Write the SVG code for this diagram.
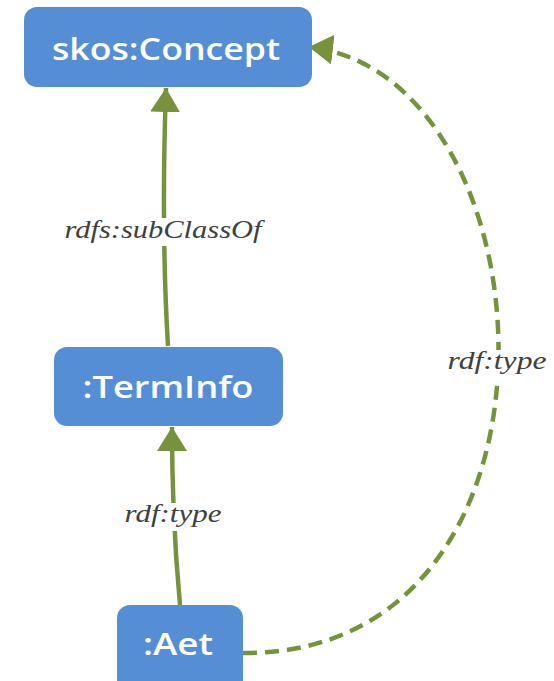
<svg xmlns="http://www.w3.org/2000/svg" width="554" height="681" viewBox="0 0 554 681">
<style>
.node rect{fill:#558ed5;}
.node text{fill:#fff;font-family:"Open Sans","Noto Sans",sans-serif;font-weight:600;font-size:31px;text-anchor:middle;}
.edge{fill:none;stroke:#76923c;stroke-width:4.5;}
.dash{stroke-dasharray:14 8;}
.lbl{font-family:"Liberation Serif","DejaVu Serif",serif;font-style:italic;font-size:26px;fill:#404040;text-anchor:middle;}
.bg{fill:#fff;}
</style>
<defs>
<marker id="ah" viewBox="0 0 24 30" refX="24" refY="15" markerWidth="24" markerHeight="30" markerUnits="userSpaceOnUse" orient="auto">
<path d="M0,0 L24,15 L0,30 z" fill="#76923c"/>
</marker>
</defs>
<rect width="554" height="681" fill="#fff"/>
<g id="connectors">
<path class="edge" d="M168,346 Q161,230 166,88" marker-end="url(#ah)"/>
<path class="edge" d="M180,605 Q172,520 172,427" marker-end="url(#ah)"/>
<path class="edge dash" d="M243,653 C590,655 555,75 309,47" marker-end="url(#ah)"/>
<rect class="bg" x="62" y="218" width="203" height="28"/>
<text class="lbl" x="163" y="238" textLength="197" lengthAdjust="spacingAndGlyphs">rdfs:subClassOf</text>
<rect class="bg" x="122" y="503" width="103" height="28"/>
<text class="lbl" x="173" y="522" textLength="97" lengthAdjust="spacingAndGlyphs">rdf:type</text>
<rect class="bg" x="446" y="350" width="103" height="28"/>
<text class="lbl" x="497" y="369" textLength="99" lengthAdjust="spacingAndGlyphs">rdf:type</text>
</g>
<g id="skos-concept" class="node"><rect x="24" y="7" width="288" height="80" rx="13"/><text x="166" y="60" textLength="228" lengthAdjust="spacingAndGlyphs">skos:Concept</text></g>
<g id="terminfo" class="node"><rect x="54" y="347" width="229" height="79" rx="13"/><text x="168" y="398" textLength="171" lengthAdjust="spacingAndGlyphs">:TermInfo</text></g>
<g id="aet" class="node"><rect x="117" y="605" width="126" height="90" rx="13"/><text x="178" y="655" textLength="70" lengthAdjust="spacingAndGlyphs">:Aet</text></g>
</svg>
